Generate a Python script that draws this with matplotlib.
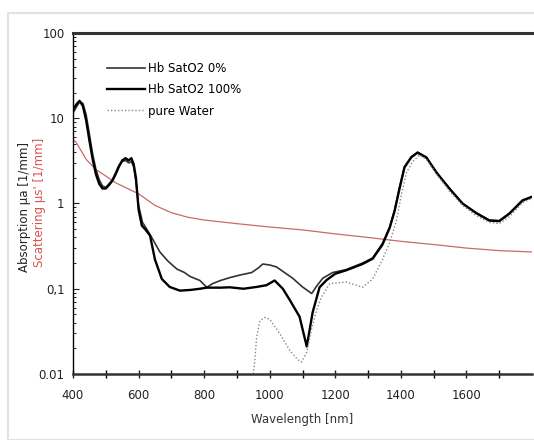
import matplotlib.pyplot as plt
from matplotlib.patches import Rectangle

plt.rcParams['font.family'] = ['DejaVu Sans']

# ----------------------------
# data
# ----------------------------
wl_hb0 = [400, 410, 420, 430, 440, 450, 460, 470, 480, 490, 500, 510, 520, 530, 540,
          550, 560, 570, 578, 585, 592, 600, 612, 625, 640, 665, 690, 717, 740, 756,
          787, 808, 826, 850, 878, 910, 945, 965, 979, 1000, 1021, 1045, 1070, 1100,
          1128, 1145, 1162, 1192, 1234, 1283, 1314, 1344, 1366, 1381, 1396, 1411,
          1432, 1451, 1478, 1509, 1548, 1588, 1630, 1670, 1700, 1731, 1771, 1800]
mua_hb0 = [11.5, 13.5, 15.5, 15, 11, 6.5, 3.8, 2.5, 1.9, 1.6, 1.55, 1.7, 1.9, 2.3, 2.8,
           3.1, 3.2, 3.0, 3.1, 2.7, 1.8, 0.95, 0.6, 0.5, 0.40, 0.27, 0.21, 0.17, 0.155, 0.14,
           0.125, 0.104, 0.115, 0.125, 0.135, 0.145, 0.155, 0.175, 0.195, 0.19, 0.18, 0.155,
           0.133, 0.105, 0.088, 0.11, 0.133, 0.155, 0.168, 0.20, 0.23, 0.34, 0.53, 0.84,
           1.55, 2.7, 3.5, 4.0, 3.5, 2.3, 1.5, 1.0, 0.78, 0.64, 0.63, 0.77, 1.1, 1.2]

wl_hb100 = [400, 410, 420, 430, 440, 450, 460, 470, 480, 490, 500, 510, 520, 530, 540,
            550, 560, 570, 578, 585, 592, 600, 610, 620, 635, 650, 671, 695, 726, 760,
            787, 808, 850, 878, 920, 960, 990, 1015, 1040, 1061, 1091, 1113, 1131, 1152,
            1174, 1200, 1234, 1283, 1314, 1344, 1366, 1381, 1396, 1411, 1432, 1451, 1478,
            1509, 1548, 1588, 1630, 1670, 1700, 1731, 1771, 1800]
mua_hb100 = [12.5, 14.5, 16, 14, 9.5, 5.5, 3.3, 2.2, 1.7, 1.5, 1.5, 1.65, 1.85, 2.2, 2.7,
             3.2, 3.4, 3.2, 3.4, 2.9, 2.0, 0.85, 0.55, 0.5, 0.42, 0.22, 0.13, 0.105, 0.095,
             0.097, 0.1, 0.103, 0.103, 0.104, 0.1, 0.105, 0.11, 0.125, 0.1, 0.074, 0.047,
             0.021, 0.053, 0.104, 0.127, 0.15, 0.165, 0.195, 0.225, 0.33, 0.52, 0.82, 1.5,
             2.65, 3.5, 3.95, 3.45, 2.3, 1.5, 1.0, 0.77, 0.63, 0.62, 0.76, 1.08, 1.2]

wl_water = [950, 955, 960, 970, 985, 1000, 1030, 1061, 1085, 1097, 1113, 1128, 1143, 1158,
            1183, 1234, 1283, 1314, 1344, 1366, 1387, 1402, 1417, 1436, 1457, 1478, 1509,
            1548, 1588, 1630, 1670, 1700, 1731, 1771, 1800]
mua_water = [0.01, 0.015, 0.027, 0.042, 0.046, 0.044, 0.030, 0.019, 0.0148, 0.0138, 0.018,
             0.034, 0.056, 0.08, 0.115, 0.12, 0.104, 0.13, 0.22, 0.35, 0.64, 1.3, 2.3, 3.1,
             3.7, 3.3, 2.2, 1.4, 0.95, 0.72, 0.6, 0.58, 0.7, 1.02, 1.15]

wl_scat = [400, 410, 440, 470, 500, 530, 600, 650, 700, 750, 800, 900, 1000, 1100, 1200,
           1300, 1400, 1500, 1600, 1700, 1800]
mus_scat = [5.6, 5.2, 3.3, 2.5, 2.1, 1.75, 1.3, 0.95, 0.78, 0.69, 0.64, 0.58, 0.53, 0.49,
            0.44, 0.40, 0.36, 0.33, 0.30, 0.28, 0.27]

y_ticks = [0.01, 0.1, 1, 10, 100]
y_labels = ["0.01", "0,1", "1", "10", "100"]
x_ticks = [400, 600, 800, 1000, 1200, 1400, 1600]

# ----------------------------
# figure
# ----------------------------
fig = plt.figure(figsize=(5.34, 4.40), dpi=100)
fig.patches.append(Rectangle((8 / 534, 0), 1, 1 - 13 / 440, transform=fig.transFigure,
                             fill=False, edgecolor='#e2e2e2', linewidth=1.5))

ax = fig.add_axes([73 / 534, 1 - 374 / 440, 459 / 534, 341 / 440])

ax.plot(wl_scat, mus_scat, color='#c96a66', linewidth=0.9)
ax.plot(wl_hb0, mua_hb0, color='#333333', linewidth=1.2, label='Hb SatO2 0%')
ax.plot(wl_hb100, mua_hb100, color='black', linewidth=1.7, label='Hb SatO2 100%')
ax.plot(wl_water, mua_water, color='#888888', linewidth=1.0, linestyle=(0, (1, 1.5)),
        label='pure Water')

ax.set_yscale('log')
ax.set_ylim(0.01, 100)
ax.set_xlim(400, 1800)

ax.set_yticks(y_ticks)
ax.set_yticklabels(y_labels)
ax.set_xticks(x_ticks)
ax.set_xticks(range(500, 1800, 100), minor=True)
ax.tick_params(axis='both', which='major', labelsize=8.5, colors='#222222')
ax.tick_params(axis='x', which='both', direction='inout', length=6, width=1, pad=8)
ax.tick_params(axis='y', which='major', direction='in', length=4, pad=6)
ax.tick_params(axis='y', which='minor', direction='in', length=2)

ax.spines['top'].set_linewidth(2.2)
ax.spines['top'].set_color('#333333')
ax.spines['bottom'].set_linewidth(1.8)
ax.spines['bottom'].set_color('#333333')
ax.spines['left'].set_linewidth(1.0)
ax.spines['right'].set_visible(False)

ax.set_xlabel("Wavelength [nm]", fontsize=8.5, color='#333333', labelpad=8)

fig.text(25 / 534, 1 - 207 / 440, "Absorption µa [1/mm]", rotation=90, fontsize=8.5,
         color='#222222', ha='center', va='center')
fig.text(40 / 534, 1 - 202 / 440, "Scattering µs' [1/mm]", rotation=90, fontsize=8.5,
         color='#d9534f', ha='center', va='center')

ax.legend(loc='upper left', bbox_to_anchor=(0.075, 0.915), frameon=False, fontsize=8.5,
          handlelength=3.2, handletextpad=0.2, labelspacing=0.7, borderpad=0,
          borderaxespad=0)

plt.savefig("out.png", dpi=100)
